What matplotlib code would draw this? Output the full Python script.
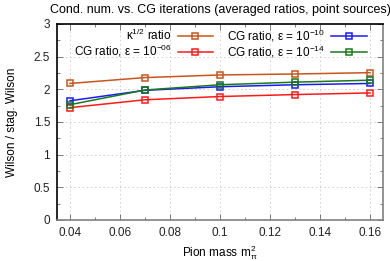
import matplotlib
matplotlib.use('Agg')
import matplotlib.pyplot as plt

plt.rcParams['font.family'] = ['Liberation Sans', 'DejaVu Sans']
plt.rcParams['mathtext.fontset'] = 'custom'
plt.rcParams['mathtext.rm'] = 'Liberation Sans'
plt.rcParams['mathtext.it'] = 'Liberation Sans'
plt.rcParams['mathtext.bf'] = 'Liberation Sans:bold'

# pion mass squared
mpi2 = [0.04, 0.07, 0.10, 0.13, 0.16]
kappa_ratio = [2.09, 2.18, 2.22, 2.235, 2.255]
cg_1e06 = [1.72, 1.84, 1.89, 1.92, 1.945]
cg_1e10 = [1.825, 1.985, 2.04, 2.07, 2.09]
cg_1e14 = [1.765, 1.99, 2.07, 2.11, 2.14]

xticks = [0.04, 0.06, 0.08, 0.10, 0.12, 0.14, 0.16]
xticklabels = ['0.04', '0.06', '0.08', '0.1', '0.12', '0.14', '0.16']
yticks = [0, 0.5, 1, 1.5, 2, 2.5, 3]
yticklabels = ['0', '0.5', '1', '1.5', '2', '2.5', '3']

labels = [r'κ$^{1/2}$ ratio',
          r'CG ratio, ε = 10$^{-06}$',
          r'CG ratio, ε = 10$^{-10}$',
          r'CG ratio, ε = 10$^{-14}$']
colors = ['#c8561c', '#ff1a1a', '#1a1aff', '#1a7a1a']

fig = plt.figure(figsize=(3.9, 2.61), dpi=100)
ax = fig.add_axes([57/390, 41/261, 326/390, 196/261])

series = [kappa_ratio, cg_1e06, cg_1e10, cg_1e14]
for ys, c, lab in zip(series, colors, labels):
    ax.plot(mpi2, ys, color=c, lw=1.1, marker='s', ms=3.8, mfc='none',
            mew=1.1, label=lab)

ax.set_xlim(0.0348, 0.1652)
ax.set_ylim(0, 3)
ax.set_xticks(xticks)
ax.set_xticklabels(xticklabels)
ax.set_xticks([0.05, 0.07, 0.09, 0.11, 0.13, 0.15], minor=True)
ax.set_yticks(yticks)
ax.set_yticklabels(yticklabels)
ax.set_yticks([0.25, 0.75, 1.25, 1.75, 2.25, 2.75], minor=True)
ax.tick_params(which='both', direction='in', top=True, right=True,
               labelsize=8.5, labelcolor='#222222', pad=5)
ax.tick_params(which='major', length=4, width=0.6, color='#666666')
ax.tick_params(which='minor', length=2, width=0.6, color='#666666')
ax.grid(True, which='major', color='#cccccc', ls=(0, (2, 3)), lw=0.6)

ax.spines['left'].set_color('black')
ax.spines['top'].set_color('black')
ax.spines['right'].set_color('#808080')
ax.spines['bottom'].set_color('#808080')
for s in ax.spines.values():
    s.set_linewidth(1.2)

ax.set_title('Cond. num. vs. CG iterations (averaged ratios, point sources)',
             fontsize=9, pad=8)
ax.set_xlabel(r'Pion mass m$_{\pi}^{2}$', fontsize=8.5, labelpad=3)
ax.set_ylabel('Wilson / stag. Wilson', fontsize=8.5, labelpad=11)

ax.legend(ncol=2, loc='upper right', bbox_to_anchor=(0.975, 1.025),
          frameon=False, markerfirst=False, fontsize=8.5, handlelength=3.0,
          handletextpad=0.5, columnspacing=1.2, labelspacing=0.0,
          borderpad=0.2)

fig.savefig('out.png', dpi=100)
